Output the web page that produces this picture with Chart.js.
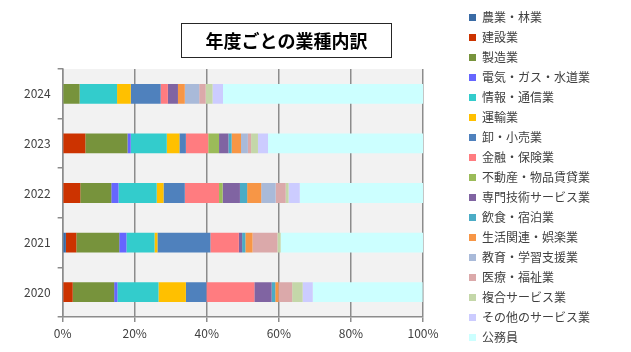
<!DOCTYPE html>
<html>
<head>
<meta charset="utf-8">
<script src="https://cdn.jsdelivr.net/npm/chart.js@4/dist/chart.umd.min.js"></script>
<style>
    html, body { margin: 0; padding: 0; background: #fff; }
    #wrap { position: relative; width: 631px; height: 352px; }
    #titulo {
        position: absolute; left: 181px; top: 23px; width: 209px; height: 33px;
        border: 1.5px solid #262626; text-align: center; line-height: 33px;
        font-family: "Noto Sans CJK JP", sans-serif; font-size: 18px; font-weight: bold; color: #000;
    }
</style>
</head>
<body>
<div id="wrap">
    <canvas id="grafica" width="631" height="352"></canvas>
    <div id="titulo">年度ごとの業種内訳</div>
</div>
<script>
// ============================
// DATOS
// ============================

const years = ["2024", "2023", "2022", "2021", "2020"];

const industries = [
    "農業・林業", "建設業", "製造業", "電気・ガス・水道業", "情報・通信業", "運輸業",
    "卸・小売業", "金融・保険業", "不動産・物品賃貸業", "専門技術サービス業", "飲食・宿泊業",
    "生活関連・娯楽業", "教育・学習支援業", "医療・福祉業", "複合サービス業",
    "その他のサービス業", "公務員"
];

const colors = [
    "#3A6BA5", "#CC3300", "#77933C", "#6666FF", "#33CCCC", "#FFC000",
    "#4F81BD", "#FF7C80", "#9BBB59", "#8064A2", "#4BACC6",
    "#F79646", "#A9BAD9", "#DBA9AA", "#C4D7A9",
    "#CCCCFF", "#CCFFFF"
];

// % por año, en el orden de industries
const share2024 = [0, 0, 4.7, 0, 10.4, 3.8, 8.3, 2.0, 0, 2.8, 0, 1.9, 4.0, 1.8, 1.9, 2.9, 55.6];
const share2023 = [0, 6.3, 11.7, 0.9, 10.0, 3.5, 1.8, 6.2, 3.0, 2.6, 0.9, 2.6, 1.9, 0.9, 1.9, 2.8, 43.1];
const share2022 = [0, 4.9, 8.6, 2.0, 10.6, 1.9, 5.9, 9.5, 1.0, 4.8, 2.0, 3.9, 4.0, 2.8, 0.8, 3.1, 34.2];
const share2021 = [0.9, 2.9, 11.9, 2.0, 7.8, 0.8, 14.7, 7.9, 0, 0.9, 0.9, 2.0, 0, 6.9, 0.9, 0, 39.5];
const share2020 = [0, 2.8, 11.5, 0.9, 11.4, 7.6, 5.7, 13.3, 0, 4.8, 1.0, 0.9, 0, 3.8, 2.9, 2.8, 30.5];

const xTicks = [0, 20, 40, 60, 80, 100];

const rows = [share2024, share2023, share2022, share2021, share2020];

// ============================
// GRÁFICA
// ============================

const fondoPlot = {
    id: "fondoPlot",
    beforeDraw(chart) {
        const { ctx, chartArea: a } = chart;
        ctx.save();
        ctx.fillStyle = "#F2F2F2";
        ctx.fillRect(a.left, a.top, a.right - a.left, a.bottom - a.top);
        ctx.restore();
    }
};

const ctx = document.getElementById("grafica").getContext("2d");

new Chart(ctx, {
    type: "bar",
    data: {
        labels: years,
        datasets: industries.map((name, i) => ({
            label: name,
            data: rows.map(r => r[i]),
            backgroundColor: colors[i],
            borderWidth: 0,
            categoryPercentage: 1,
            barPercentage: 0.4
        }))
    },
    options: {
        indexAxis: "y",
        responsive: false,
        animation: false,
        layout: { padding: { left: 17, right: 31, top: 3, bottom: 0 } },
        plugins: {
            legend: {
                position: "right",
                maxWidth: 170,
                labels: {
                    boxWidth: 7,
                    boxHeight: 7,
                    padding: 8,
                    color: "#404040",
                    font: { family: "Noto Sans CJK JP", size: 12 }
                }
            },
            tooltip: { enabled: false }
        },
        scales: {
            x: {
                stacked: true,
                min: 0,
                max: 100,
                afterBuildTicks: s => { s.ticks = xTicks.map(v => ({ value: v })); },
                afterFit: s => { s.height = 35; },
                ticks: {
                    callback: v => v + "%",
                    color: "#404040",
                    padding: 4,
                    font: { family: "Noto Sans CJK JP", size: 12 }
                },
                grid: { color: "#8C8C8C", lineWidth: 1.5, tickLength: 5 },
                border: { color: "#8C8C8C", width: 1.5 }
            },
            y: {
                stacked: true,
                ticks: {
                    color: "#404040",
                    padding: 7,
                    font: { family: "Noto Sans CJK JP", size: 12 }
                },
                grid: { drawOnChartArea: false, color: "#8C8C8C", lineWidth: 1.5, tickLength: 5 },
                border: { color: "#8C8C8C", width: 1.5 }
            },
            espacioArriba: {
                type: "linear",
                position: "top",
                ticks: { display: false },
                grid: { display: false },
                border: { display: false },
                afterFit: s => { s.height = 66; }
            },
            espacioDerecha: {
                type: "linear",
                position: "right",
                ticks: { display: false },
                grid: { display: false },
                border: { display: false },
                afterFit: s => { s.width = 38; }
            }
        }
    },
    plugins: [fondoPlot]
});
</script>
</body>
</html>
